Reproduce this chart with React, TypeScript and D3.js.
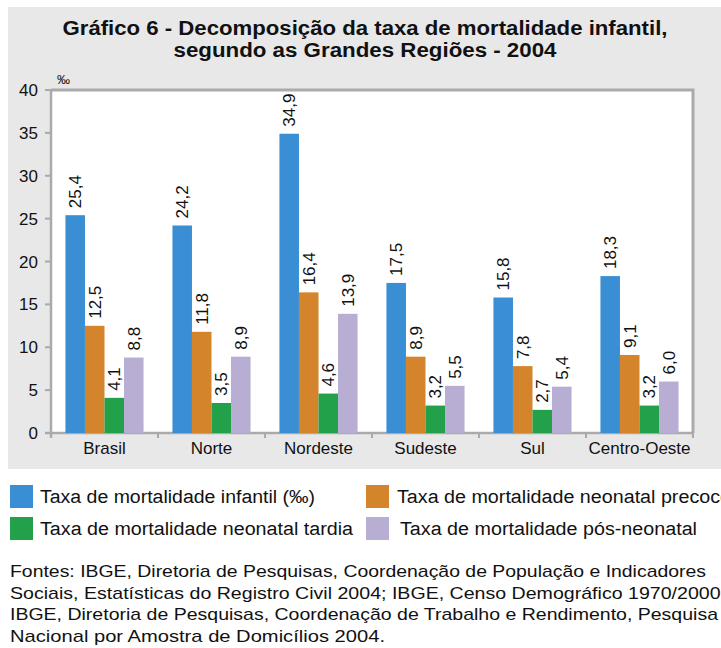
import React from "react";
import * as d3 from "d3";

const regioes = ["Brasil", "Norte", "Nordeste", "Sudeste", "Sul", "Centro-Oeste"];
const series = [
  "Taxa de mortalidade infantil (‰)",
  "Taxa de mortalidade neonatal precoce",
  "Taxa de mortalidade neonatal tardia",
  "Taxa de mortalidade pós-neonatal",
];
const infantil = [25.4, 24.2, 34.9, 17.5, 15.8, 18.3];
const neonatalPrecoce = [12.5, 11.8, 16.4, 8.9, 7.8, 9.1];
const neonatalTardia = [4.1, 3.5, 4.6, 3.2, 2.7, 3.2];
const posNeonatal = [8.8, 8.9, 13.9, 5.5, 5.4, 6.0];
const yTicks = [0, 5, 10, 15, 20, 25, 30, 35, 40];
const cores = ["#3a8fd4", "#d4842a", "#22a04a", "#b8aed3"];

const titulo = [
  "Gráfico 6 - Decomposição da taxa de mortalidade infantil,",
  "segundo as Grandes Regiões - 2004",
];
const fontes = [
  "Fontes: IBGE, Diretoria de Pesquisas, Coordenação de População e Indicadores",
  "Sociais, Estatísticas do Registro Civil 2004; IBGE, Censo Demográfico 1970/2000;",
  "IBGE, Diretoria de Pesquisas, Coordenação de Trabalho e Rendimento, Pesquisa",
  "Nacional por Amostra de Domicílios 2004.",
];

const font = "'Liberation Sans', Arial, Helvetica, sans-serif";

export default function App() {
  const valores = [infantil, neonatalPrecoce, neonatalTardia, posNeonatal];

  // plot area
  const left = 51, right = 693, top = 90, bottom = 433;

  const x = d3.scaleBand().domain(regioes).range([left, right]).paddingInner(0.27).paddingOuter(0.135);
  const x1 = d3.scaleBand().domain(series).range([0, x.bandwidth()]);
  const y = d3.scaleLinear().domain([0, 40]).range([bottom, top]);
  const fmt = (v: number) => d3.format(".1f")(v).replace(".", ",");
  const step = (right - left) / regioes.length;

  const titleLens = [605, 383];
  const fonteLens = [696, 716, 708, 375];
  const legendLens = [275, 334, 313, 297];

  return (
    <svg width={721} height={648} style={{ position: "absolute", left: 0, top: 0 }}>
      <rect x={0} y={0} width={721} height={648} fill="#fff" />
      <rect x={8} y={7} width={713} height={462} fill="#e8e8e8" />

      {titulo.map((t, i) => (
        <text key={i} x={365} y={35 + i * 22} textAnchor="middle" fontFamily={font}
          fontWeight="bold" fontSize={20} fill="#111"
          textLength={titleLens[i]} lengthAdjust="spacingAndGlyphs">{t}</text>
      ))}

      <rect x={left} y={top} width={right - left} height={bottom - top} fill="#fff" />
      <path d={`M${left},${top}H${right}V${bottom}`} fill="none" stroke="#aaa" strokeWidth={3} />
      <line x1={left} x2={left} y1={top - 1} y2={bottom + 5} stroke="#aaa" strokeWidth={2.5} />
      <line x1={left - 6} x2={right + 1} y1={bottom} y2={bottom} stroke="#aaa" strokeWidth={2.5} />

      {yTicks.map((t) => (
        <g key={t}>
          <line x1={left - 6} x2={left} y1={y(t)} y2={y(t)} stroke="#aaa" strokeWidth={2} />
          <text x={38} y={y(t)} dy="0.36em" textAnchor="end" fontFamily={font} fontSize={17} fill="#111">{t}</text>
        </g>
      ))}
      <text x={57} y={84} fontFamily={font} fontSize={13} fill="#111">‰</text>

      {regioes.map((r, i) => (
        <line key={"t" + i} x1={left + step * (i + 1)} x2={left + step * (i + 1)} y1={bottom} y2={bottom + 5}
          stroke="#aaa" strokeWidth={2} />
      ))}

      {regioes.map((r, i) => (
        <g key={r} transform={`translate(${x(r)},0)`}>
          {series.map((s, j) => {
            const v = valores[j][i];
            const bx = x1(s)!;
            return (
              <g key={s}>
                <rect x={bx} y={y(v)} width={x1.bandwidth()} height={bottom - y(v)} fill={cores[j]} />
                <text transform={`translate(${bx + x1.bandwidth() / 2},${y(v) - 7}) rotate(-90)`}
                  dy="0.36em" fontFamily={font} fontSize={17} fill="#111">{fmt(v)}</text>
              </g>
            );
          })}
          <text x={x.bandwidth() / 2} y={454} textAnchor="middle" fontFamily={font} fontSize={17} fill="#111">{r}</text>
        </g>
      ))}

      {series.map((s, j) => {
        const col = j % 2, row = Math.floor(j / 2);
        const sx = col === 0 ? 10 : 366;
        const sy = 485 + row * 32;
        return (
          <g key={s}>
            <rect x={sx} y={sy} width={23} height={23} fill={cores[j]} />
            <text x={sx + (col === 0 ? 30 : j === 3 ? 34 : 31)} y={sy + 18} fontFamily={font} fontSize={18} fill="#111"
              textLength={legendLens[j]} lengthAdjust="spacingAndGlyphs">{s}</text>
          </g>
        );
      })}

      {fontes.map((t, i) => (
        <text key={i} x={10} y={577 + i * 21.7} fontFamily={font} fontSize={17} fill="#111"
          textLength={fonteLens[i]} lengthAdjust="spacingAndGlyphs">{t}</text>
      ))}
    </svg>
  );
}
